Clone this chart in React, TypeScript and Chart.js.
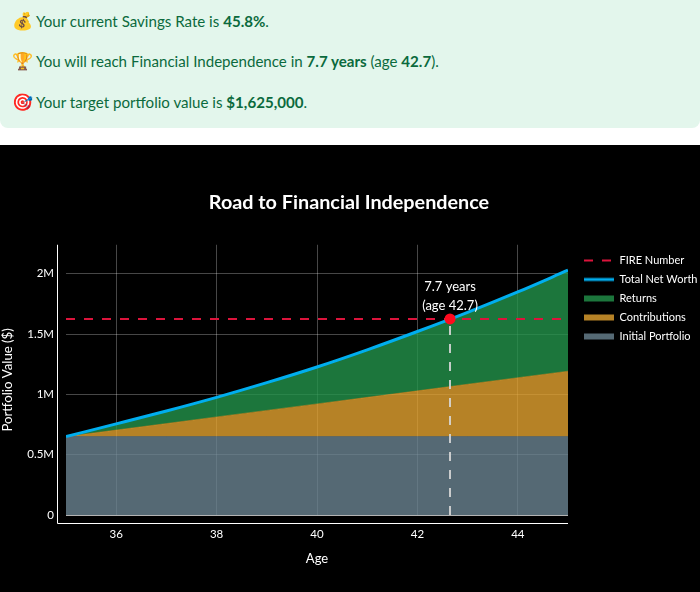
import React, { useEffect, useRef } from "react";
import { Chart, registerables } from "chart.js";

Chart.register(...registerables);

const ages = [35, 36, 37, 38, 39, 40, 41, 42, 43, 44, 45];
const initialPortfolio = [650000, 650000, 650000, 650000, 650000, 650000, 650000, 650000, 650000, 650000, 650000];
const contributions = [0, 54000, 108000, 163000, 217000, 271000, 325000, 379000, 434000, 488000, 542000];
const returns = [0, 51000, 104000, 162000, 230000, 306000, 394000, 492000, 596000, 711000, 837000];
const totalNetWorth = [650000, 755000, 862000, 975000, 1097000, 1227000, 1369000, 1521000, 1680000, 1849000, 2029000];
const fireNumber = 1625000;
const fireAge = 42.65;
const xTickValues = [36, 38, 40, 42, 44];
const yTickValues = [0, 500000, 1000000, 1500000, 2000000];
const yTickLabels = ["0", "0.5M", "1M", "1.5M", "2M"];
const annotationLines = ["7.7 years", "(age 42.7)"];

const FONT = "Lato";
const GREEN = "rgba(35,148,75,0.8)";
const ORANGE = "rgba(228,162,48,0.8)";
const SLATE = "rgba(106,131,145,0.8)";
const BLUE = "#00aeef";
const RED = "#dc143c";

function swatch(draw: (c: CanvasRenderingContext2D) => void) {
  const cv = document.createElement("canvas");
  cv.width = 30;
  cv.height = 8;
  const c = cv.getContext("2d")!;
  draw(c);
  return cv;
}

const lineSwatch = (color: string, width: number, dash: number[]) =>
  swatch((c) => {
    c.strokeStyle = color;
    c.lineWidth = width;
    c.setLineDash(dash);
    c.beginPath();
    c.moveTo(0, 4);
    c.lineTo(30, 4);
    c.stroke();
  });

const areaSwatch = (color: string) =>
  swatch((c) => {
    c.fillStyle = color;
    c.fillRect(0, 1, 30, 6);
  });

const overlayPlugin = {
  id: "overlay",
  afterLayout(chart: any) {
    const l = chart.legend;
    if (l) {
      const w = l.width;
      const h = l.height;
      l.left = 576;
      l.right = 576 + w;
      l.top = 102;
      l.bottom = 102 + h;
    }
    const t = chart.titleBlock;
    if (t) {
      t.left = 0;
      t.right = 698;
    }
  },
  afterDatasetsDraw(chart: any) {
    const { ctx, scales } = chart;
    const x = scales.x.getPixelForValue(fireAge);
    const y = scales.y.getPixelForValue(fireNumber);
    ctx.save();
    ctx.fillStyle = "#fff";
    ctx.font = `13px ${FONT}`;
    ctx.textAlign = "center";
    ctx.textBaseline = "middle";
    ctx.fillText(annotationLines[0], x, y - 32);
    ctx.fillText(annotationLines[1], x, y - 13);
    ctx.restore();
  },
  afterDraw(chart: any) {
    const { ctx, chartArea } = chart;
    ctx.save();
    ctx.strokeStyle = "#fff";
    ctx.lineWidth = 1;
    ctx.beginPath();
    ctx.moveTo(57.5, chartArea.top);
    ctx.lineTo(57.5, chartArea.bottom + 8.5);
    ctx.lineTo(chartArea.right, chartArea.bottom + 8.5);
    ctx.stroke();
    ctx.restore();
  },
};

const toXY = (vals: number[]) => vals.map((y, i) => ({ x: ages[i], y }));

export default function App() {
  const ref = useRef<HTMLCanvasElement>(null);
  useEffect(() => {
    const chart = new Chart(ref.current!, {
      type: "line",
      data: {
        datasets: [
          { label: "Initial Portfolio", data: toXY(initialPortfolio), stack: "area", fill: "origin", backgroundColor: SLATE, borderColor: SLATE, borderWidth: 0.5, pointRadius: 0, order: 5 },
          { label: "Contributions", data: toXY(contributions), stack: "area", fill: "-1", backgroundColor: ORANGE, borderColor: ORANGE, borderWidth: 0.5, pointRadius: 0, order: 6 },
          { label: "Returns", data: toXY(returns), stack: "area", fill: "-1", backgroundColor: GREEN, borderColor: GREEN, borderWidth: 0.5, pointRadius: 0, order: 7 },
          { label: "FIRE Number", data: [{ x: ages[0], y: fireNumber }, { x: ages[ages.length - 1], y: fireNumber }], stack: "fire", borderColor: RED, borderWidth: 2, borderDash: [9, 9], pointRadius: 0, fill: false, order: 4 },
          { label: "Total Net Worth", data: toXY(totalNetWorth), stack: "total", borderColor: BLUE, borderWidth: 3, pointRadius: 0, fill: false, cubicInterpolationMode: "monotone", clip: 0, order: 3 },
          { label: "FIRE drop", data: [{ x: fireAge, y: 0 }, { x: fireAge, y: fireNumber }], stack: "drop", borderColor: "rgba(215,215,215,0.9)", borderWidth: 2, borderDash: [9, 9], pointRadius: 0, fill: false, order: 2 },
          { label: "FIRE point", data: [{ x: fireAge, y: fireNumber }], stack: "point", backgroundColor: "#ff0a1e", borderWidth: 0, pointRadius: 5.5, showLine: false, order: 1 },
        ] as any,
      },
      options: {
        animation: false,
        responsive: false,
        layout: { padding: { left: 0, top: 0, right: 132, bottom: 0 } },
        scales: {
          x: {
            type: "linear",
            min: 35,
            max: 45,
            afterBuildTicks: (s: any) => { s.ticks = xTickValues.map((value) => ({ value })); },
            afterFit: (s: any) => { s.height = 77; },
            border: { display: false },
            grid: { color: "rgba(255,255,255,0.28)", lineWidth: 1, drawTicks: false },
            ticks: { color: "#fff", font: { family: FONT, size: 11.5 }, padding: 12, maxRotation: 0, callback: (v: any) => String(v) },
            title: { display: true, text: "Age", color: "#fff", font: { family: FONT, size: 13 }, padding: { top: 0, bottom: 25 } },
          },
          y: {
            stacked: true,
            min: 0,
            max: 2240000,
            afterBuildTicks: (s: any) => { s.ticks = yTickValues.map((value) => ({ value })); },
            afterFit: (s: any) => { s.width = 66; },
            border: { display: false },
            grid: {
              color: (c: any) => (c.tick && c.tick.value === 0 ? "rgba(255,255,255,0.7)" : "rgba(255,255,255,0.28)"),
              lineWidth: 1,
              drawTicks: false,
            },
            ticks: {
              color: "#fff",
              font: { family: FONT, size: 11.5 },
              padding: 12,
              callback: (v: any) => yTickLabels[yTickValues.indexOf(v)] ?? "",
            },
            title: { display: true, text: "Portfolio Value ($)", color: "#fff", font: { family: FONT, size: 13.2 }, padding: { top: 0, bottom: 0 } },
          },
        },
        plugins: {
          tooltip: { enabled: false },
          title: {
            display: true,
            text: "Road to Financial Independence",
            color: "#fff",
            font: { family: FONT, size: 19.8, weight: "bold" },
            padding: { top: 46, bottom: 30 },
          },
          legend: {
            position: "chartArea",
            align: "start",
            labels: {
              color: "#fff",
              font: { family: FONT, size: 11 },
              usePointStyle: true,
              pointStyleWidth: 30,
              padding: 8,
              generateLabels: () => [
                { text: "FIRE Number", pointStyle: lineSwatch(RED, 2, [9, 9]), fontColor: "#fff", lineWidth: 0, hidden: false },
                { text: "Total Net Worth", pointStyle: lineSwatch(BLUE, 3, []), fontColor: "#fff", lineWidth: 0, hidden: false },
                { text: "Returns", pointStyle: areaSwatch(GREEN), fontColor: "#fff", lineWidth: 0, hidden: false },
                { text: "Contributions", pointStyle: areaSwatch(ORANGE), fontColor: "#fff", lineWidth: 0, hidden: false },
                { text: "Initial Portfolio", pointStyle: areaSwatch(SLATE), fontColor: "#fff", lineWidth: 0, hidden: false },
              ],
            },
          },
        },
      } as any,
      plugins: [overlayPlugin],
    });
    return () => chart.destroy();
  }, []);

  const row: React.CSSProperties = { height: 40.4, lineHeight: "40.4px", whiteSpace: "nowrap" };
  const icon: React.CSSProperties = { display: "inline-block", width: 24, marginLeft: 12, fontSize: 17 };
  return (
    <div style={{ width: 700, height: 592, overflow: "hidden", background: "#fff", position: "relative" }}>
      <style>{`html,body{margin:0;padding:0;overflow:hidden}`}</style>
      <div style={{ height: 128, background: "#e3f6ec", borderRadius: "0 0 8px 8px", color: "#0b6a3d", fontFamily: FONT, fontSize: 15.1, paddingTop: 1, boxSizing: "border-box" }}>
        <div style={row}><span style={icon}>💰</span>Your current Savings Rate is <b>45.8%</b>.</div>
        <div style={row}><span style={icon}>🏆</span>You will reach Financial Independence in <b>7.7 years</b> (age <b>42.7</b>).</div>
        <div style={row}><span style={icon}>🎯</span>Your target portfolio value is <b>$1,625,000</b>.</div>
      </div>
      <canvas ref={ref} width={700} height={447} style={{ position: "absolute", left: 0, top: 145, width: 700, height: 447, background: "#000", display: "block" }} />
    </div>
  );
}
